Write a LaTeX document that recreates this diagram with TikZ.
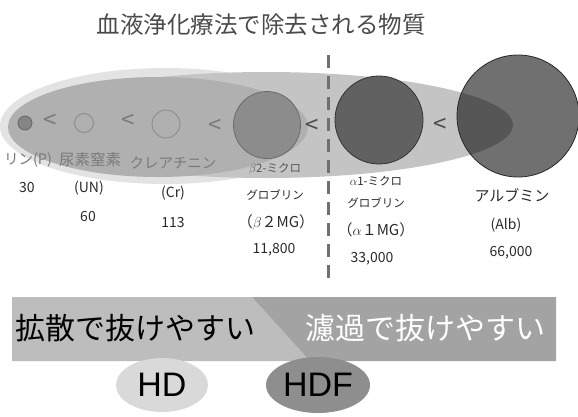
\documentclass[tikz,border=0pt]{standalone}
\usepackage{fontspec}
\setmainfont{Noto Sans CJK JP}
\newfontfamily\latinfont{Liberation Sans}
\usetikzlibrary{shapes.geometric}
\definecolor{ellA}{HTML}{E3E3E3}
\definecolor{ellB}{HTML}{B0B0B0}
\definecolor{ellC}{HTML}{C4C4C4}
\definecolor{graytxt}{HTML}{7A7A7A}
\definecolor{darktxt}{HTML}{2A2A2A}
\definecolor{bandL}{HTML}{BDBDBD}
\definecolor{bandR}{HTML}{A3A3A3}
\definecolor{hdfill}{HTML}{D9D9D9}
\definecolor{hdffill}{HTML}{8E8E8E}
\definecolor{dashcol}{HTML}{707070}
\tikzset{
  lbl/.style={inner sep=0pt, anchor=center},
  glbl/.style={lbl, text=graytxt, font=\fontsize{14.5}{14}\selectfont},
  num/.style={lbl, text=darktxt, font=\fontsize{14}{14}\selectfont},
  small/.style={lbl, text=darktxt, font=\fontsize{11.5}{11}\selectfont},
  paren/.style={lbl, text=darktxt, font=\fontsize{15}{15}\selectfont},
  lt/.style={lbl, font=\fontsize{24}{24}\selectfont},
  big/.style={lbl, font=\fontsize{30}{30}\selectfont},
  method/.style={ellipse, inner sep=0pt, font=\latinfont\fontsize{34}{34}\selectfont},
}
\begin{document}
\begin{tikzpicture}[x=1pt,y=-1pt]
\useasboundingbox (0,0) rectangle (578,416);
% title
\node[lbl, text=darktxt!85!white, font=\fontsize{23.5}{23.5}\selectfont] (title) at (261,25) {血液浄化療法で除去される物質};
% ellipses
\fill[ellA] (165,126) ellipse [x radius=165, y radius=58];
\fill[ellC] (266,125) ellipse [x radius=247, y radius=53];
\fill[ellB] (158,127) ellipse [x radius=150, y radius=50];
% circles
\node[circle, draw=black!60, fill=black!48, line width=0.8pt, minimum size=14pt, inner sep=0pt] (p) at (25,123) {};
\node[circle, draw=black!45, line width=0.9pt, minimum size=19pt, inner sep=0pt] (un) at (84,123) {};
\node[circle, draw=black!45, line width=0.9pt, minimum size=28pt, inner sep=0pt] (cr) at (166,124) {};
\node[circle, draw=black!58, fill=black!45, line width=0.8pt, minimum size=67pt, inner sep=0pt] (b2) at (267,125) {};
\node[circle, draw=black!80, fill=black!62, line width=0.8pt, minimum size=88pt, inner sep=0pt] (a1) at (379,120) {};
\node[circle, draw=black!85, fill=black, fill opacity=0.56, line width=0.8pt, minimum size=122pt, inner sep=0pt] (alb) at (518,116) {};
% less-than signs
\node[lt, text=graytxt] (lt1) at (50,121) {<};
\node[lt, text=graytxt] (lt2) at (128,121) {<};
\node[lt, text=graytxt] (lt3) at (215,126) {<};
\node[lt, text=black!70] (lt4) at (312,126) {<};
\node[lt, text=black!70] (lt5) at (440,125) {<};
% dashed line
\coordinate (dtop) at (328,55);
\coordinate (dbot) at (328,284);
\draw[dashcol, line width=3pt, dash pattern=on 13pt off 8pt] (dtop) -- (dbot);
% labels
\node[glbl] (pn) at (28,160) {リン(P)};
\node[glbl, font=\fontsize{15.5}{15}\selectfont] (unn) at (90,160) {尿素窒素};
\node[glbl] (crn) at (173,163) {クレアチニン};
\node[num] (p30) at (27,188) {30};
\node[num] (unab) at (89,188) {(UN)};
\node[num] (un60) at (88,217) {60};
\node[num] (crab) at (173,193) {(Cr)};
\node[num] (cr113) at (173,223) {113};
\node[small, text=black!65] (b2a) at (275,169) {$\beta$2-ミクロ};
\node[small] (b2b) at (275,195) {グロブリン};
\node[paren] (b2c) at (276,222) {（$\beta$２MG）};
\node[num] (b2d) at (274,250) {11,800};
\node[small] (a1a) at (376,181) {$\alpha$1-ミクロ};
\node[small] (a1b) at (376,203) {グロブリン};
\node[paren] (a1c) at (376,230) {（$\alpha$１MG）};
\node[num] (a1d) at (372,259) {33,000};
\node[paren] (alba) at (512,195) {アルブミン};
\node[num] (albb) at (506,225) {(Alb)};
\node[num] (albc) at (511,253) {66,000};
% band
\fill[bandL] (12,297) -- (252,297) -- (310,361) -- (12,361) -- cycle;
\fill[bandR] (252,297) -- (556,297) -- (556,361) -- (310,361) -- cycle;
\node[big, text=black] (diff) at (136,328) {拡散で抜けやすい};
\node[big, text=white] (filt) at (425,328) {濾過で抜けやすい};
% HD / HDF
\node[method, fill=hdfill, minimum width=92pt, minimum height=54pt] (hd) at (162,385) {HD};
\node[method, fill=hdffill, minimum width=104pt, minimum height=56pt] (hdf) at (318,385) {HDF};
\end{tikzpicture}
\end{document}
